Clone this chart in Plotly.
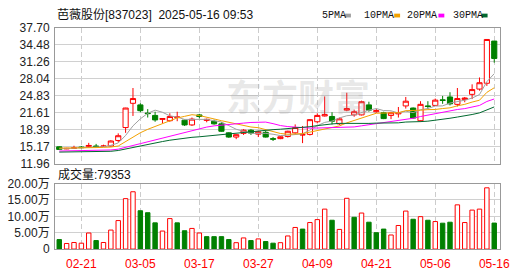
import plotly.graph_objects as go
import pandas as pd

# ---------------- data ----------------
dates = ["02-18", "02-19", "02-20", "02-21", "02-24", "02-25", "02-26", "02-27", "02-28", "03-03",
         "03-04", "03-05", "03-06", "03-07", "03-10", "03-11", "03-12", "03-13", "03-14", "03-17",
         "03-18", "03-19", "03-20", "03-21", "03-24", "03-25", "03-26", "03-27", "03-28", "03-31",
         "04-01", "04-02", "04-03", "04-07", "04-08", "04-09", "04-10", "04-11", "04-14", "04-15",
         "04-16", "04-17", "04-18", "04-21", "04-22", "04-23", "04-24", "04-25", "04-28", "04-29",
         "04-30", "05-06", "05-07", "05-08", "05-09", "05-12", "05-13", "05-14", "05-15", "05-16"]

opens = [15.15, 14.75, 14.85, 15.1, 15.25, 15.3, 15.2, 15.3, 16.35, 18.8,
         23.4, 23.1, 21.55, 21.1, 20.35, 20.1, 20.7, 20.2, 19.3, 21.2,
         20.15, 20.0, 19.5, 17.8, 17.0, 17.7, 18.3, 17.55, 17.9, 16.7,
         16.7, 17.1, 17.8, 17.4, 17.5, 19.9, 21.0, 20.9, 19.5, 22.1,
         21.2, 21.2, 23.1, 21.8, 21.6, 21.1, 21.4, 22.9, 22.5, 20.1,
         22.9, 23.0, 24.05, 24.6, 23.2, 24.1, 25.1, 26.1, 27.2, 35.2]
highs = [15.25, 14.95, 15.35, 15.3, 15.9, 15.7, 15.55, 16.4, 17.7, 22.55,
         26.3, 23.4, 22.3, 21.8, 20.55, 21.5, 21.8, 20.3, 20.7, 21.4,
         20.5, 20.3, 19.8, 17.9, 17.5, 18.5, 18.5, 18.2, 18.2, 17.0,
         17.15, 18.2, 19.4, 19.1, 20.4, 21.5, 24.7, 21.7, 20.7, 25.4,
         22.2, 23.9, 23.7, 22.3, 21.8, 21.8, 22.7, 24.6, 22.6, 23.8,
         23.8, 24.3, 24.8, 25.5, 26.3, 24.6, 27.0, 28.3, 35.5, 35.2]
lows = [14.6, 14.7, 14.8, 14.85, 15.0, 15.0, 15.1, 15.2, 16.0, 17.8,
        21.0, 21.7, 20.7, 19.9, 19.6, 19.9, 20.0, 19.1, 19.1, 20.55,
        19.8, 19.35, 18.0, 16.85, 16.6, 17.4, 17.4, 17.0, 16.9, 16.25,
        16.6, 16.9, 17.6, 15.85, 17.3, 19.6, 20.9, 19.4, 19.3, 21.9,
        20.85, 21.1, 21.8, 21.6, 20.4, 20.4, 20.7, 22.4, 20.5, 19.9,
        22.3, 22.9, 23.3, 23.0, 22.8, 23.6, 24.2, 25.8, 26.7, 31.1]
closes = [14.65, 14.85, 14.95, 15.0, 15.4, 15.2, 15.3, 16.25, 17.25, 22.5,
          24.3, 22.0, 21.45, 20.25, 20.5, 20.9, 20.8, 19.3, 20.4, 20.9,
          20.35, 19.5, 18.1, 17.0, 17.45, 18.3, 17.75, 18.0, 17.0, 16.6,
          17.05, 18.1, 18.8, 17.45, 20.3, 21.1, 21.25, 20.0, 20.45, 22.4,
          21.8, 23.7, 22.1, 22.0, 20.5, 21.6, 21.65, 23.8, 20.6, 23.2,
          22.8, 24.0, 23.95, 23.3, 24.3, 24.4, 26.0, 27.3, 35.5, 31.9]
volumes = [29000, 17000, 20000, 18000, 49000, 26000, 20000, 58000, 87000, 154000,
           175000, 117000, 111000, 80000, 55000, 93000, 80000, 56000, 63000, 49000,
           38000, 38000, 38000, 29000, 19500, 34000, 26000, 31000, 23000, 18000,
           19500, 40000, 66000, 61000, 81000, 90000, 122000, 88000, 60000, 155000,
           97000, 110000, 82000, 50000, 61000, 43000, 72000, 116000, 91000, 99000,
           88000, 84000, 79000, 82000, 135000, 81000, 119000, 122000, 187000, 79353]

# moving-average values before each window is full
ma5_early = [14.75, 14.8, 14.85, 14.9]
ma10_early = [14.9, 14.9, 14.95, 14.95, 15.0, 15.0, 15.05, 15.1, 15.3]
ma20_early = [14.35, 14.37, 14.4, 14.42, 14.45, 14.48, 14.5, 14.55, 14.7, 15.0,
              15.4, 15.75, 16.1, 16.45, 16.8, 17.1, 17.45, 17.8, 18.2]
ma30_early = [14.15, 14.17, 14.18, 14.2, 14.22, 14.25, 14.27, 14.3, 14.45, 14.75,
              15.05, 15.35, 15.65, 15.9, 16.15, 16.4, 16.6, 16.8, 16.95, 17.05,
              17.2, 17.35, 17.5, 17.6, 17.75, 17.9, 18.05, 18.2, 18.3]

price_ticks = ["11.96", "15.17", "18.39", "21.61", "24.83", "28.04", "31.26", "34.48", "37.70"]
vol_tick_vals = [0, 50000, 100000, 150000, 200000]
vol_tick_text = ["0", "5.00万", "10.00万", "15.00万", "20.00万"]
date_ticks = ["02-21", "03-05", "03-17", "03-27", "04-09", "04-21", "05-06", "05-16"]

title_text = "芭薇股份[837023]\u00a0 2025-05-16 09:53"
vol_label = "成交量:79353"
ma_names = ["5PMA", "10PMA", "20PMA", "30PMA"]
ma_colors = ["#a0a0a0", "#f2a100", "#ff00ff", "#00692f"]
watermark = "东方财富"

# ---------------- derived ----------------
cs = pd.Series(closes)
def ma(n, early):
    r = cs.rolling(n).mean().tolist()
    return early + r[len(early):]

mas = [ma(5, ma5_early), ma(10, ma10_early), ma(20, ma20_early), ma(30, ma30_early)]

RED = "#ff0000"
GREEN = "#008000"
vol_up = [closes[0] >= opens[0]] + [closes[i] >= closes[i - 1] for i in range(1, len(closes))]
vol_fill = ["#ffffff" if u else GREEN for u in vol_up]
vol_line = [RED if u else GREEN for u in vol_up]

W, H = 530, 276
def px(x):
    return x / W
def py(y):
    return 1 - y / H

FONT = "Arial, 'Liberation Sans', 'Noto Sans CJK SC', sans-serif"

fig = go.Figure()
fig.add_trace(go.Candlestick(
    x=dates, open=opens, high=highs, low=lows, close=closes,
    increasing=dict(line=dict(color=RED, width=1), fillcolor="#ffffff"),
    decreasing=dict(line=dict(color=GREEN, width=1), fillcolor=GREEN),
    whiskerwidth=0, showlegend=False, hoverinfo="skip", xaxis="x", yaxis="y"))
for name, col, vals in zip(ma_names, ma_colors, mas):
    fig.add_trace(go.Scatter(x=dates, y=vals, mode="lines", line=dict(color=col, width=1),
                             name=name, showlegend=False, hoverinfo="skip",
                             xaxis="x", yaxis="y"))
fig.add_trace(go.Bar(x=dates, y=volumes,
                     marker=dict(color=vol_fill, line=dict(color=vol_line, width=1)),
                     showlegend=False, hoverinfo="skip", xaxis="x2", yaxis="y2"))

xdom = [px(56), px(509)]
xrange = [-0.57, 59.83]
common_x = dict(domain=xdom, type="category", range=xrange, tickvals=date_ticks,
                ticktext=date_ticks, showgrid=True, gridcolor="#cccccc", gridwidth=1,
                griddash="5px,3px", showline=True, mirror=True, linecolor="#999999",
                linewidth=1, ticks="", zeroline=False, fixedrange=True)

fig.update_layout(
    width=W, height=H, margin=dict(l=0, r=0, t=0, b=0),
    paper_bgcolor="#ffffff", plot_bgcolor="#ffffff",
    font=dict(family=FONT, size=12, color="#222222"),
    bargap=0.4, boxgap=0.3, boxgroupgap=0.0,
    xaxis=dict(**common_x, anchor="y", showticklabels=False, rangeslider=dict(visible=False)),
    xaxis2=dict(**common_x, anchor="y2", showticklabels=True,
                tickfont=dict(color=RED, size=12, family=FONT), ticklabelstandoff=4),
    yaxis=dict(domain=[py(165), py(22)], range=[11.96, 37.70],
               tickvals=[float(t) for t in price_ticks], ticktext=price_ticks,
               showgrid=True, gridcolor="#d0d0d0", gridwidth=1, showline=True, mirror=True,
               linecolor="#999999", ticks="", zeroline=False, anchor="x",
               tickfont=dict(size=12, family=FONT, color="#222222"), ticklabelstandoff=2),
    yaxis2=dict(domain=[py(255), py(186)], range=[0, 200000],
                tickvals=vol_tick_vals, ticktext=vol_tick_text,
                showgrid=True, gridcolor="#d0d0d0", gridwidth=1, showline=True, mirror=True,
                linecolor="#999999", ticks="", zeroline=False, anchor="x2",
                tickfont=dict(size=12, family=FONT, color="#222222"), ticklabelstandoff=2),
)

annotations = [
    dict(text=watermark, x=px(303), y=py(93), xref="paper", yref="paper",
         xanchor="center", yanchor="middle", showarrow=False,
         font=dict(size=36, color="rgba(150,150,150,0.22)", family="'Noto Sans CJK SC'", weight="bold")),
    dict(text=title_text, x=px(56), y=py(8), xref="paper", yref="paper",
         xanchor="left", yanchor="middle", showarrow=False,
         font=dict(size=12, color="#111111", family=FONT)),
    dict(text=vol_label, x=px(57), y=py(176), xref="paper", yref="paper",
         xanchor="left", yanchor="middle", showarrow=False,
         font=dict(size=12, color="#111111", family=FONT)),
]
legend_x = [326, 368, 412, 459]
swatch_x = [351, 401, 446, 490]
shapes = []
for name, col, lx, sx in zip(ma_names, ma_colors, legend_x, swatch_x):
    annotations.append(dict(text=name, x=px(lx), y=py(9), xref="paper", yref="paper",
                            xanchor="left", yanchor="middle", showarrow=False,
                            font=dict(size=10, color="#111111", family="'Liberation Mono', monospace")))
    shapes.append(dict(type="rect", xref="paper", yref="paper",
                       x0=px(sx), x1=px(sx + 6), y0=py(11), y1=py(7),
                       fillcolor=col, line=dict(width=0)))
fig.update_layout(annotations=annotations, shapes=shapes)

fig.write_html("out.html")
